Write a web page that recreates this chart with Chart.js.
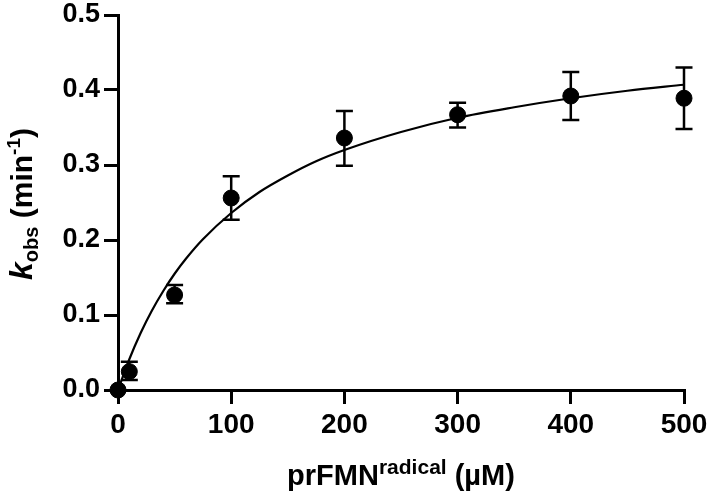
<!DOCTYPE html>
<html><head><meta charset="utf-8">
<script src="https://cdn.jsdelivr.net/npm/chart.js@4"></script>
<style>html,body{margin:0;padding:0;background:#fff}#wrap{width:709px;height:496px}</style>
</head><body><div id="wrap"><canvas id="c" width="709" height="496"></canvas></div>
<script>
// measured data
const conc = [0, 10, 50, 100, 200, 300, 400, 500];
const kobs = [0, 0.0245, 0.1267, 0.256, 0.336, 0.367, 0.392, 0.389];
const errHigh = [0, 0.0378, 0.140, 0.285, 0.372, 0.383, 0.424, 0.430];
const errLow = [0, 0.0133, 0.1156, 0.227, 0.299, 0.350, 0.360, 0.348];
// fitted curve
const fitX = [0, 10, 20, 30, 40, 50, 60, 75, 100, 125, 150, 175, 200, 250, 300, 350, 400, 450, 500];
const fitY = [0, 0.041, 0.076, 0.106, 0.132, 0.155, 0.175, 0.201, 0.236, 0.264, 0.286, 0.305, 0.320, 0.344, 0.363, 0.377, 0.389, 0.399, 0.407];
const xTicks = [0, 100, 200, 300, 400, 500];
const yTicks = [0, 0.1, 0.2, 0.3, 0.4, 0.5];

const F = '"Liberation Sans", Arial, sans-serif';

const errorBars = {
  id: 'errorBars',
  afterDatasetsDraw(chart) {
    const {ctx, scales: {x, y}} = chart;
    ctx.save();
    ctx.strokeStyle = '#000';
    ctx.lineWidth = 2.5;
    const cap = 8.5;
    conc.forEach((c, i) => {
      if (errHigh[i] === errLow[i]) return;
      const px = x.getPixelForValue(c);
      const yt = y.getPixelForValue(errHigh[i]);
      const yb = y.getPixelForValue(errLow[i]);
      ctx.beginPath();
      ctx.moveTo(px, yt); ctx.lineTo(px, yb);
      ctx.moveTo(px - cap, yt); ctx.lineTo(px + cap, yt);
      ctx.moveTo(px - cap, yb); ctx.lineTo(px + cap, yb);
      ctx.stroke();
    });
    ctx.restore();
  }
};

function drawRuns(ctx, runs, startX, baseY) {
  let xpos = startX;
  runs.forEach(r => {
    ctx.font = r.font;
    ctx.fillText(r.t, xpos, baseY + (r.dy || 0));
    xpos += ctx.measureText(r.t).width;
  });
}
function runsWidth(ctx, runs) {
  let w = 0;
  runs.forEach(r => { ctx.font = r.font; w += ctx.measureText(r.t).width; });
  return w;
}

const titles = {
  id: 'titles',
  afterDraw(chart) {
    const ctx = chart.ctx;
    ctx.save();
    ctx.fillStyle = '#000';
    ctx.textBaseline = 'alphabetic';
    ctx.textAlign = 'left';
    // x title
    const xr = [
      {t: 'prFMN', font: 'bold 29px ' + F},
      {t: 'radical', font: 'bold 21px ' + F, dy: -11},
      {t: ' (µM)', font: 'bold 29px ' + F}
    ];
    const cx = (chart.chartArea.left + chart.chartArea.right) / 2;
    const w = runsWidth(ctx, xr);
    drawRuns(ctx, xr, cx - w / 2, 485);
    // y title
    const yr = [
      {t: 'k', font: 'italic bold 32px ' + F},
      {t: 'obs', font: 'bold 20px ' + F, dy: 6},
      {t: ' (min', font: 'bold 30px ' + F},
      {t: '-1', font: 'bold 19px ' + F, dy: -12},
      {t: ')', font: 'bold 30px ' + F}
    ];
    const wy = runsWidth(ctx, yr);
    ctx.translate(32, 204);
    ctx.rotate(-Math.PI / 2);
    drawRuns(ctx, yr, -wy / 2, 0);
    ctx.restore();
  }
};

new Chart(document.getElementById('c'), {
  type: 'scatter',
  data: {
    datasets: [
      {
        type: 'scatter',
        data: conc.map((c, i) => ({x: c, y: kobs[i]})),
        backgroundColor: '#000', borderColor: '#000',
        pointRadius: 8, pointHoverRadius: 8,
        clip: false, order: 0
      },
      {
        type: 'line',
        data: fitX.map((c, i) => ({x: c, y: fitY[i]})),
        borderColor: '#000', borderWidth: 2.2,
        pointRadius: 0, fill: false,
        cubicInterpolationMode: 'monotone',
        clip: false, order: 1
      }
    ]
  },
  plugins: [errorBars, titles],
  options: {
    responsive: false,
    animation: false,
    devicePixelRatio: 1,
    layout: {padding: {left: 0, right: 25, top: 15, bottom: 0}},
    plugins: {legend: {display: false}, tooltip: {enabled: false}},
    scales: {
      x: {
        type: 'linear', min: 0, max: 500,
        afterBuildTicks: s => { s.ticks = xTicks.map(v => ({value: v})); },
        afterFit: s => { s.height = 106; s.paddingLeft = 0; s.paddingRight = 0; },
        border: {display: true, color: '#000', width: 3},
        grid: {display: true, drawOnChartArea: false, drawTicks: true, tickLength: 14, color: '#000', lineWidth: 3},
        ticks: {color: '#000', font: {family: F, size: 28, weight: 'bold'}, padding: 4, maxRotation: 0}
      },
      y: {
        type: 'linear', min: 0, max: 0.5,
        afterBuildTicks: s => { s.ticks = yTicks.map(v => ({value: v})); },
        afterFit: s => { s.width = 118; s.paddingTop = 0; s.paddingBottom = 0; },
        border: {display: true, color: '#000', width: 3},
        grid: {display: true, drawOnChartArea: false, drawTicks: true, tickLength: 14, color: '#000', lineWidth: 3},
        ticks: {color: '#000', font: {family: F, size: 27, weight: 'bold'}, padding: 4,
          callback: v => v.toFixed(1)}
      }
    }
  }
});
</script></body></html>
